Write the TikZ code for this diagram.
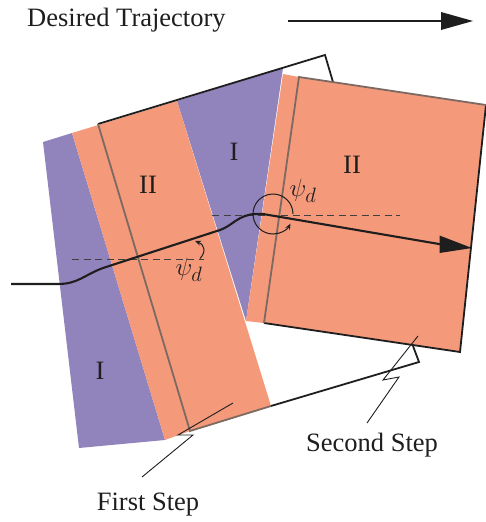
\documentclass[tikz,border=0pt]{standalone}
\usepackage{fontspec}
\setmainfont{Liberation Serif}
\usetikzlibrary{arrows.meta}
\definecolor{orng}{HTML}{F4997A}
\definecolor{purp}{HTML}{9183BC}
\definecolor{edgeg}{HTML}{7C6A62}
\definecolor{ink}{HTML}{1E1E1E}
\tikzset{
  x=1pt,y=-1pt,
  lbl/.style={text=ink,font=\fontsize{26.5}{30}\selectfont,inner sep=0pt},
  sym/.style={text=ink,font=\fontsize{29}{32}\selectfont,inner sep=0pt},
  blackline/.style={draw=ink,line width=1.8pt,line join=miter},
  greyline/.style={draw=edgeg,line width=1.8pt},
  traj/.style={draw=ink,line width=2.1pt},
  dashline/.style={draw=ink!85,line width=0.9pt,dash pattern=on 7pt off 4.5pt},
  leader/.style={draw=ink,line width=0.9pt},
  smallarc/.style={draw=ink,line width=1pt,-{Stealth[length=6pt,width=5pt]}},
}
\begin{document}
\begin{tikzpicture}
\useasboundingbox (0,0) rectangle (486,522);
% regions
\fill[purp] (43,142) -- (72,133) -- (165,440) -- (79,448) -- cycle;
\fill[purp] (177,101) -- (283,68) -- (246,321) -- cycle;
\fill[orng] (72,133) -- (177,101) -- (271,406) -- (190,431) -- (165,440) -- cycle;
\fill[orng] (283,74) -- (299,77) -- (486,105) -- (460,352) -- (264,323) -- (246,321) -- cycle;
% outlines
\draw[blackline] (98,124) -- (325,55) -- (333,82);
\draw[blackline] (271,406) -- (419,362) -- (413,346);
\draw[blackline] (264,323) -- (460,352) -- (486,105);
\draw[greyline] (98,124) -- (190,431) -- (271,406);
\draw[greyline] (264,323) -- (299,77) -- (486,105);
% dashed references
\coordinate (d1a) at (72,259); \coordinate (d1b) at (204,259);
\coordinate (d2a) at (212,215); \coordinate (d2b) at (400,215);
\draw[dashline] (d1a) -- (d1b);
\draw[dashline] (d2a) -- (d2b);
% angle marks
\draw[smallarc] (200,258.5) .. controls (206,252) and (205,245) .. (195,241);
\draw[smallarc] (293,214) arc (0:-331:20);
% trajectory
\draw[traj] (11,284) -- (58,284) .. controls (78,284) and (84,275) .. (103,268) -- (220,230) .. controls (232,226) and (238,215) .. (255,214) -- (263,214) -- (442,244.5);
\fill[ink] (472,248) -- (439.5,235.5) -- (439.5,253) -- cycle;
% top arrow
\draw[draw=ink,line width=1.9pt] (288,21) -- (442,21);
\fill[ink] (473,21) -- (441,12) -- (441,30) -- cycle;
% leaders
\draw[leader] (233,403) -- (178,435) -- (193,435) -- (142,477);
\draw[leader] (418,336) -- (383,380) -- (399,377) -- (367,423);
% text
\node[lbl,anchor=base west] (title) at (27,26) {Desired Trajectory};
\node[lbl] (r1) at (100,371) {I};
\node[lbl] (r2) at (148,185) {II};
\node[lbl] (r3) at (234,152) {I};
\node[lbl] (r4) at (352,165) {II};
\node[sym] (p1) at (189,270) {$\psi_d$};
\node[sym] (p2) at (303,191) {$\psi_d$};
\node[lbl,anchor=base] (first) at (148,510) {First Step};
\node[lbl,anchor=base] (second) at (372,451) {Second Step};
\end{tikzpicture}
\end{document}
